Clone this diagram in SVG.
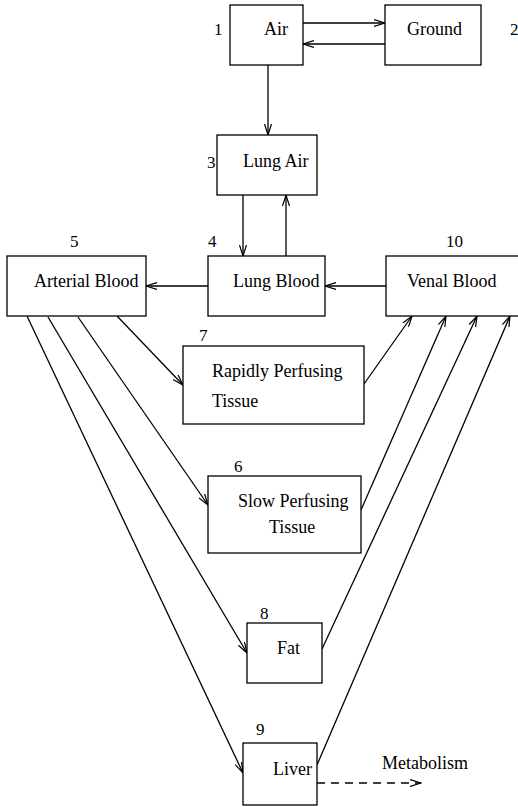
<svg xmlns="http://www.w3.org/2000/svg" width="518" height="807" viewBox="0 0 518 807">
<style>
.box{fill:#fff;stroke:#000;stroke-width:1.3}
.t{font-family:"Liberation Serif","Times New Roman",serif;font-size:18px;fill:#000}
.n{font-family:"Liberation Serif","Times New Roman",serif;font-size:17px;fill:#000}
.c{fill:none;stroke:#000;stroke-width:1.3;marker-end:url(#ah)}
.d{stroke-dasharray:8 6}
</style>
<defs>
<marker id="ah" viewBox="0 0 12 8" refX="11" refY="4" markerWidth="12" markerHeight="8" markerUnits="userSpaceOnUse" orient="auto">
<path d="M0,0.5 L11,4 L0,7.5" fill="none" stroke="#000" stroke-width="1.2"/>
</marker>
</defs>
<rect width="518" height="807" fill="#fff"/>
<g id="connectors">
<line class="c" x1="303" y1="23" x2="385" y2="23"/>
<line class="c" x1="385" y1="44" x2="303" y2="44"/>
<line class="c" x1="268" y1="65" x2="268" y2="135"/>
<line class="c" x1="243" y1="195" x2="243" y2="256"/>
<line class="c" x1="286" y1="256" x2="286" y2="195"/>
<line class="c" x1="208" y1="286" x2="146" y2="286"/>
<line class="c" x1="386" y1="286" x2="325" y2="286"/>
<line class="c" x1="117" y1="316" x2="183" y2="385"/>
<line class="c" x1="78" y1="317" x2="208" y2="505"/>
<line class="c" x1="48" y1="317" x2="247" y2="653"/>
<line class="c" x1="27" y1="316" x2="243" y2="773"/>
<line class="c" x1="364" y1="384" x2="412" y2="316"/>
<line class="c" x1="361" y1="510" x2="446" y2="316"/>
<line class="c" x1="322" y1="649" x2="477" y2="316"/>
<line class="c" x1="317" y1="765" x2="510" y2="316"/>
<line class="c d" x1="317" y1="783" x2="421" y2="783"/>
</g>
<g id="air"><rect class="box" x="230" y="5" width="73" height="60"/><text class="t" x="264" y="35">Air</text><text class="n" x="214" y="35">1</text></g>
<g id="ground"><rect class="box" x="385" y="5" width="96" height="60"/><text class="t" x="407" y="35">Ground</text><text class="n" x="510" y="35">2</text></g>
<g id="lung-air"><rect class="box" x="217" y="135" width="100" height="60"/><text class="t" x="243" y="167">Lung Air</text><text class="n" x="207" y="168">3</text></g>
<g id="lung-blood"><rect class="box" x="208" y="256" width="117" height="60"/><text class="t" x="233" y="287">Lung Blood</text><text class="n" x="208" y="247">4</text></g>
<g id="arterial-blood"><rect class="box" x="7" y="256" width="139" height="60"/><text class="t" x="34" y="287">Arterial Blood</text><text class="n" x="70" y="247">5</text></g>
<g id="venal-blood"><rect class="box" x="386" y="256" width="140" height="60"/><text class="t" x="407" y="287">Venal Blood</text><text class="n" x="446" y="247">10</text></g>
<g id="rapidly"><rect class="box" x="183" y="346" width="181" height="78"/><text class="t" x="212" y="377">Rapidly Perfusing</text><text class="t" x="212" y="407">Tissue</text><text class="n" x="199" y="341">7</text></g>
<g id="slow"><rect class="box" x="208" y="476" width="153" height="77"/><text class="t" x="238" y="507">Slow Perfusing</text><text class="t" x="269" y="533">Tissue</text><text class="n" x="234" y="472">6</text></g>
<g id="fat"><rect class="box" x="247" y="623" width="75" height="60"/><text class="t" x="277" y="654">Fat</text><text class="n" x="260" y="619">8</text></g>
<g id="liver"><rect class="box" x="243" y="743" width="74" height="62"/><text class="t" x="273" y="775">Liver</text><text class="n" x="256" y="735">9</text></g>
<text class="t" x="382" y="769">Metabolism</text>
</svg>
